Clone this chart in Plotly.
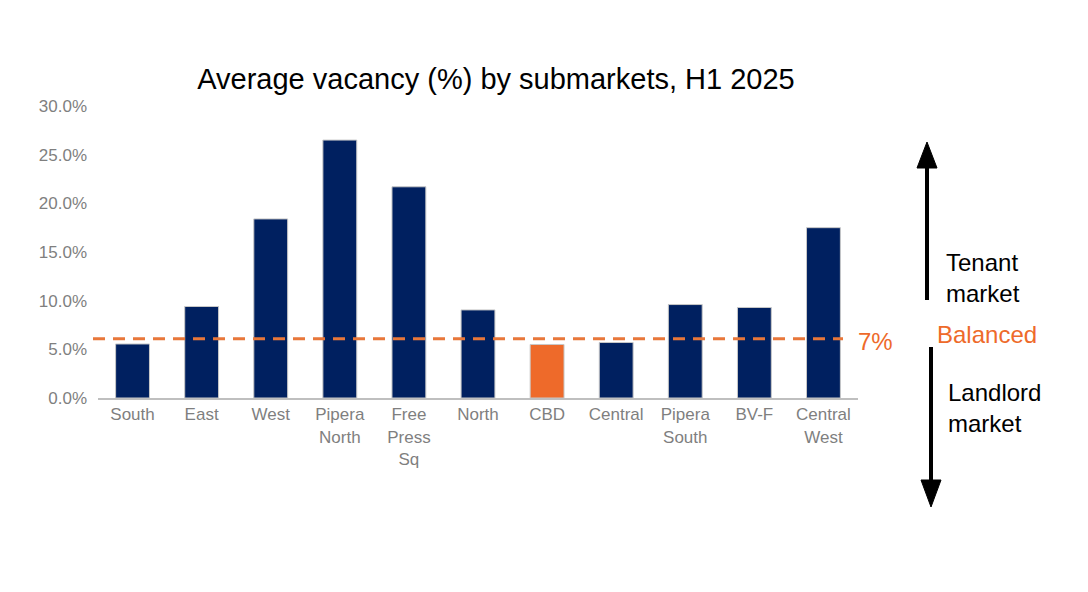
import plotly.graph_objects as go

categories = ["South", "East", "West", "Pipera<br>North", "Free<br>Press<br>Sq", "North",
              "CBD", "Central", "Pipera<br>South", "BV-F", "Central<br>West"]
vacancy = [5.55, 9.4, 18.4, 26.5, 21.7, 9.05, 5.5, 5.7, 9.6, 9.3, 17.5]
highlight = "CBD"
balanced_level = 6.1
balanced_label = "7%"
y_ticks = [0, 5, 10, 15, 20, 25, 30]
y_tick_labels = ["0.0%", "5.0%", "10.0%", "15.0%", "20.0%", "25.0%", "30.0%"]

NAVY = "#002060"
ORANGE = "#EE6A2A"
FONT = "Liberation Sans, Arial, sans-serif"

colors = [ORANGE if c == highlight else NAVY for c in categories]

fig = go.Figure()
fig.add_trace(go.Bar(
    x=categories, y=vacancy,
    marker=dict(color=colors, line=dict(color="#C8C8C8", width=1)),
    hoverinfo="skip",
))

W, H = 1088, 592
OFF = 8  # page offset of the figure
# plot area in reference picture coords
PL, PR, PT, PB = 98, 858, 106, 398
L, T = PL - OFF, PT - OFF
R, B = W - (PR - OFF), H - (PB - OFF)
pw, ph = PR - PL, PB - PT

def px(x):
    return (x - PL) / pw

def py(y):
    return (PB - y) / ph

shapes = [
    dict(type="line", xref="paper", yref="y", x0=px(93), x1=px(843),
         y0=balanced_level, y1=balanced_level,
         line=dict(color="#E8773A", width=3, dash="12px,8px")),
    # up arrow
    dict(type="line", xref="paper", yref="paper", x0=px(927), x1=px(927),
         y0=py(300), y1=py(166), line=dict(color="black", width=4)),
    dict(type="path", xref="paper", yref="paper",
         path=f"M {px(917)} {py(168)} L {px(937)} {py(168)} L {px(927)} {py(142)} Z",
         fillcolor="black", line=dict(color="black", width=1)),
    # down arrow
    dict(type="line", xref="paper", yref="paper", x0=px(931), x1=px(931),
         y0=py(347), y1=py(482), line=dict(color="black", width=4)),
    dict(type="path", xref="paper", yref="paper",
         path=f"M {px(921)} {py(480)} L {px(941)} {py(480)} L {px(931)} {py(507)} Z",
         fillcolor="black", line=dict(color="black", width=1)),
]

annotations = [
    dict(text=balanced_label, xref="paper", yref="paper", x=px(856), y=py(341),
         xanchor="left", yanchor="middle", showarrow=False,
         font=dict(family=FONT, size=24, color=ORANGE)),
    dict(text="Tenant<br>market", xref="paper", yref="paper", x=px(944), y=py(278),
         xanchor="left", yanchor="middle", align="left", showarrow=False,
         font=dict(family=FONT, size=24, color="black")),
    dict(text="Balanced", xref="paper", yref="paper", x=px(935), y=py(334),
         xanchor="left", yanchor="middle", showarrow=False,
         font=dict(family=FONT, size=24, color=ORANGE)),
    dict(text="Landlord<br>market", xref="paper", yref="paper", x=px(946), y=py(408),
         xanchor="left", yanchor="middle", align="left", showarrow=False,
         font=dict(family=FONT, size=24, color="black")),
]

fig.update_layout(
    width=W, height=H,
    margin=dict(l=L, r=R, t=T, b=B),
    paper_bgcolor="white", plot_bgcolor="white",
    showlegend=False,
    bargap=0.51,
    title=dict(text="Average vacancy (%) by submarkets, H1 2025",
               xref="container", yref="container", x=(496 - OFF) / W, y=1 - (79 - OFF) / H,
               xanchor="center", yanchor="middle",
               font=dict(family=FONT, size=29, color="black")),
    font=dict(family=FONT),
    shapes=shapes,
    annotations=annotations,
)
fig.update_yaxes(range=[0, 30], tickvals=y_ticks, ticktext=y_tick_labels,
                 showgrid=False, zeroline=False, showline=False,
                 tickfont=dict(family=FONT, size=17, color="#7F7F7F"),
                 ticklabelstandoff=10)
fig.update_xaxes(showgrid=False, showline=True, linecolor="#BFBFBF", linewidth=2,
                 tickfont=dict(family=FONT, size=17, color="#7F7F7F"),
                 ticks="", tickangle=0)

fig.write_html("out.html")
